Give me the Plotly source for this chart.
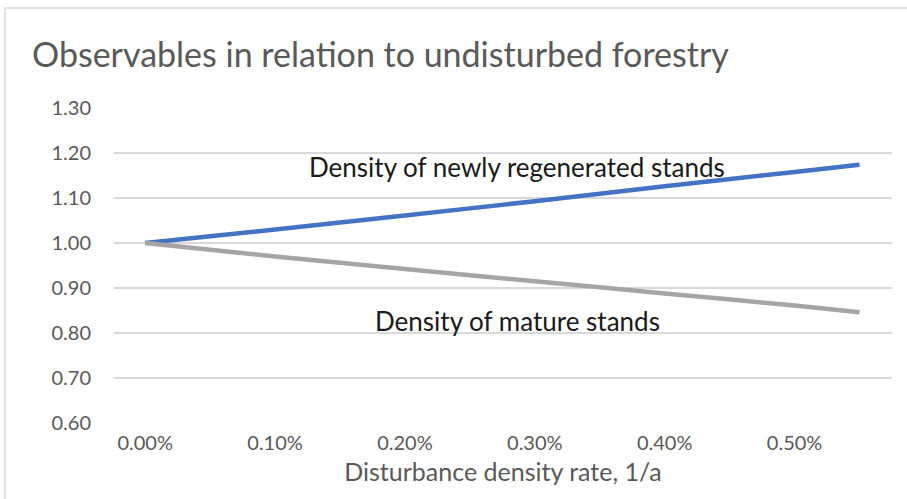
import plotly.graph_objects as go

# Data (x as fraction, shown as %)
x_rate = [0.0, 0.001, 0.002, 0.003, 0.004, 0.005, 0.0055]
newly_regenerated = [1.000, 1.030, 1.061, 1.093, 1.126, 1.158, 1.174]
mature = [1.000, 0.970, 0.942, 0.915, 0.888, 0.861, 0.846]
x_ticks = [0.0, 0.001, 0.002, 0.003, 0.004, 0.005]
y_ticks = [0.6, 0.7, 0.8, 0.9, 1.0, 1.1, 1.2, 1.3]

W, H = 907, 499
L, R, T, B = 114, 15, 108, 76
pw, ph = W - L - R, H - T - B

fig = go.Figure()
fig.add_trace(go.Scatter(x=x_rate, y=newly_regenerated, mode="lines",
                         line=dict(color="#4472C4", width=4.5, shape="spline", smoothing=0.6),
                         name="Density of newly regenerated stands"))
fig.add_trace(go.Scatter(x=x_rate, y=mature, mode="lines",
                         line=dict(color="#A5A5A5", width=4.5, shape="spline", smoothing=0.6),
                         name="Density of mature stands"))

fig.add_annotation(x=0.00286, y=1.169, text="Density of newly regenerated stands",
                   showarrow=False, font=dict(family="Lato", size=26, color="#1a1a1a"))
fig.add_annotation(x=0.00287, y=0.827, text="Density of mature stands",
                   showarrow=False, font=dict(family="Lato", size=26, color="#1a1a1a"))

# chart frame (extends beyond the visible window on right/bottom)
fig.add_shape(type="rect", xref="paper", yref="paper",
              x0=(5 - L) / pw, x1=1.2, y0=-0.5, y1=(H - B - 8) / ph,
              line=dict(color="#d9d9d9", width=1.5), fillcolor="rgba(0,0,0,0)")

fig.update_layout(
    width=W, height=H,
    margin=dict(l=L, r=R, t=T, b=B),
    paper_bgcolor="white", plot_bgcolor="white",
    showlegend=False,
    title=dict(text="Observables in relation to undisturbed forestry",
               x=32 / W, xanchor="left", xref="container",
               y=1 - 55 / H, yanchor="middle", yref="container",
               font=dict(family="Lato", size=34, color="#595959")),
    xaxis=dict(range=[-0.00024, 0.00575], tickvals=x_ticks, tickformat=".2%",
               showgrid=False, zeroline=False, showline=False,
               tickfont=dict(family="Lato", size=20, color="#595959"),
               ticks="", ticklabelstandoff=6,
               title=dict(text="Disturbance density rate, 1/a",
                          font=dict(family="Lato", size=25, color="#595959"),
                          standoff=10)),
    yaxis=dict(range=[0.6, 1.3], tickvals=y_ticks, tickformat=".2f",
               showgrid=True, gridcolor="#d9d9d9", gridwidth=1.5,
               zeroline=False, showline=False,
               tickfont=dict(family="Lato", size=20, color="#595959"),
               ticks="", ticklabelstandoff=22),
)

fig.write_html("out.html", config={"displayModeBar": False},
               post_script="document.body.style.margin='0';document.body.style.padding='0';")
